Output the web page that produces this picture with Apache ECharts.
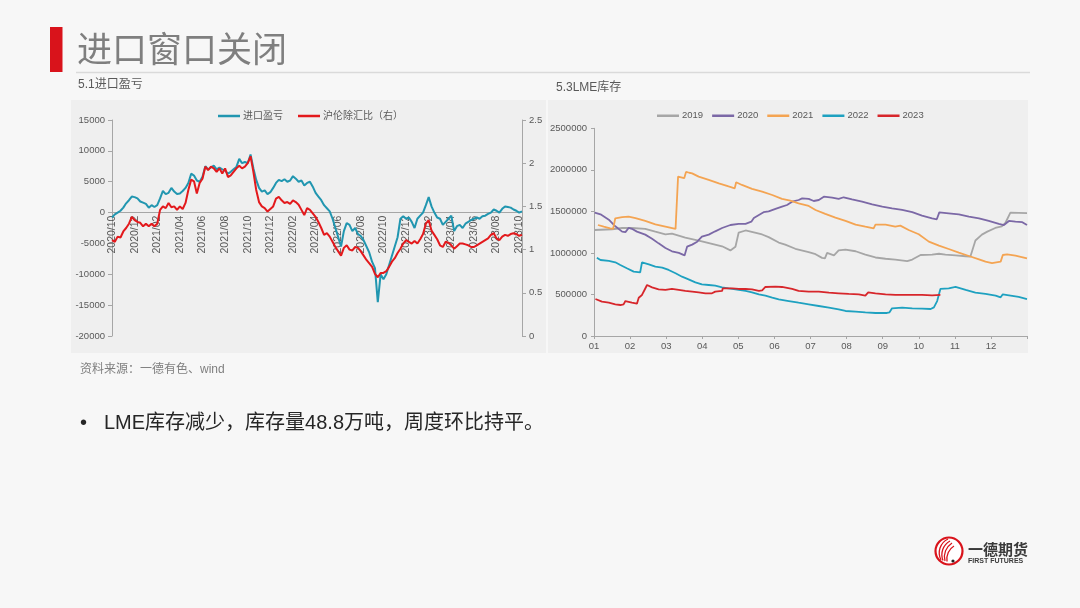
<!DOCTYPE html>
<html><head><meta charset="utf-8">
<script src="https://cdn.jsdelivr.net/npm/echarts@6/dist/echarts.min.js"></script>
<style>html,body{margin:0;padding:0;background:#f7f7f7}#c{width:1080px;height:608px}</style>
</head><body><div id="c"></div>
<script>
// ---------- Left chart: 进口盈亏 / 沪伦除汇比 (weekly samples, 2020/10 .. 2023/10) ----------
const profitSeriesName = '进口盈亏';
const ratioSeriesName = '沪伦除汇比（右）';
const xTickLabels = ['2020/10','2020/12','2021/02','2021/04','2021/06','2021/08','2021/10','2021/12',
  '2022/02','2022/04','2022/06','2022/08','2022/10','2022/12','2023/02','2023/04','2023/06','2023/08','2023/10'];
const importProfit = [
  -800,-300,0,300, 800,1500,2000,2600, 2500,2300,1800,1600, 1400,800,1200,900,
  1200,2300,3500,3000, 3200,4000,3400,3000, 3100,3500,4000,4800, 6300,6000,5200,5000,
  5800,7500,7000,7300, 7600,7000,7300,7000, 6800,6300,6600,7000, 7400,8700,8000,8200,
  8000,9400,7200,5300, 4000,3400,3600,3000, 3300,4000,4800,5300, 5100,5400,5000,5200,
  5900,5500,5000,5200, 4400,4800,5000,4200, 3200,2600,2000,1200, 700,200,-1000,-2500,
  -4000,-5500,-3000,-1700, -2000,-3000,-2500,-3500, -3800,-4500,-5500,-6500,
  -8000,-9000,-14500,-10000, -10800,-10000,-8500,-7000, -5500,-4000,-1000,-600,
  -1000,-800,-1500,-2500, -1000,-500,0,1200, 2500,1000,0,-800, -1000,-2000,-1500,-1000,
  -500,-3000,-2200,-2000, -2500,-1800,-1500,-1200, -1000,-800,-1000,-600, -500,-200,0,500,
  300,0,600,1000, 900,800,500,300, 0,200
];
const shLmeRatio = [
  1.11,1.09,1.15,1.14, 1.21,1.25,1.30,1.38, 1.34,1.32,1.31,1.27, 1.30,1.27,1.30,1.27,
  1.30,1.46,1.50,1.48, 1.54,1.49,1.50,1.46, 1.50,1.47,1.54,1.69, 1.81,1.79,1.65,1.77,
  1.82,1.96,1.92,1.96, 1.94,1.90,1.94,1.88, 1.94,1.84,1.86,1.90, 1.94,1.97,1.94,1.96,
  2.00,2.08,1.90,1.69, 1.55,1.50,1.48,1.44, 1.47,1.50,1.59,1.61, 1.57,1.54,1.55,1.53,
  1.57,1.55,1.52,1.46, 1.40,1.48,1.46,1.42, 1.38,1.32,1.25,1.17, 1.19,1.15,1.09,1.03,
  0.98,0.93,1.02,1.05, 1.00,0.99,1.03,1.02, 0.98,0.93,0.88,0.84, 0.80,0.72,0.68,0.73,
  0.73,0.75,0.80,0.86, 0.90,0.96,1.01,1.07, 1.11,1.09,1.07,1.10, 1.07,1.12,1.18,1.30,
  1.34,1.22,1.17,1.12, 1.05,1.03,1.09,1.08, 1.05,1.01,1.04,1.07, 1.07,1.06,1.05,1.03,
  1.03,1.05,1.07,1.09, 1.11,1.13,1.17,1.19, 1.13,1.11,1.15,1.17, 1.16,1.18,1.19,1.18,
  1.16,1.17
];
// weekly category names (4 per month starting 2020/10)
const weekCategories = [];
for (let i = 0; i < importProfit.length; i++) {
  const m = 9 + Math.floor(i / 4);
  const y = 2020 + Math.floor(m / 12);
  const mm = String(m % 12 + 1).padStart(2, '0');
  weekCategories.push(y + '/' + mm + '-w' + (i % 4 + 1));
}

// ---------- Right chart: LME 库存, [month position in year, tonnes] ----------
const lmeMonthLabels = ['01','02','03','04','05','06','07','08','09','10','11','12'];
const lmeYears = ['2019','2020','2021','2022','2023'];
const lme2019 = [[0.02,1276000],[0.5,1285000],[0.78,1300000],[1.05,1300000],[1.42,1290000],[1.7,1255000],[1.98,1224000],[2.16,1232000],[2.53,1185000],[2.99,1140000],[3.55,1080000],[3.78,1030000],[3.92,1075000],[4.01,1245000],[4.2,1270000],[4.66,1222000],[4.84,1190000],[5.12,1125000],[5.3,1100000],[5.58,1050000],[5.95,1010000],[6.14,985000],[6.32,940000],[6.4,935000],[6.46,1000000],[6.65,970000],[6.78,1030000],[6.97,1040000],[7.25,1020000],[7.52,980000],[7.8,945000],[8.08,930000],[8.35,920000],[8.68,900000],[8.82,920000],[9.05,975000],[9.37,980000],[9.56,990000],[9.74,980000],[10.02,970000],[10.3,960000],[10.43,955000],[10.57,1150000],[10.75,1220000],[10.9,1256000],[11.12,1300000],[11.3,1320000],[11.4,1360000],[11.54,1485000],[12,1480000]];
const lme2020 = [[0.02,1485000],[0.18,1465000],[0.41,1400000],[0.59,1320000],[0.78,1256000],[0.87,1250000],[0.96,1300000],[1.05,1290000],[1.19,1256000],[1.42,1220000],[1.61,1170000],[1.79,1115000],[1.98,1060000],[2.16,1020000],[2.35,1000000],[2.51,970000],[2.58,1075000],[2.72,1100000],[2.86,1135000],[2.99,1195000],[3.18,1220000],[3.36,1260000],[3.55,1300000],[3.78,1336000],[4.01,1350000],[4.2,1350000],[4.36,1376000],[4.43,1420000],[4.57,1457000],[4.7,1490000],[4.84,1500000],[5.03,1530000],[5.21,1557000],[5.35,1577000],[5.49,1617000],[5.67,1637000],[5.77,1657000],[5.95,1650000],[6.09,1625000],[6.23,1637000],[6.37,1677000],[6.6,1665000],[6.78,1650000],[6.92,1670000],[7.15,1645000],[7.43,1617000],[7.71,1585000],[7.99,1557000],[8.26,1537000],[8.54,1517000],[8.82,1490000],[9.09,1450000],[9.37,1417000],[9.5,1405000],[9.57,1488000],[9.83,1477000],[10.11,1465000],[10.39,1437000],[10.67,1417000],[10.94,1385000],[11.22,1350000],[11.36,1336000],[11.5,1385000],[11.68,1376000],[11.87,1370000],[12,1336000]];
const lme2021 = [[0.11,1336000],[0.27,1316000],[0.45,1296000],[0.53,1290000],[0.59,1417000],[0.78,1430000],[0.96,1437000],[1.15,1420000],[1.42,1385000],[1.7,1344000],[1.98,1316000],[2.26,1288000],[2.3,1284000],[2.33,1918000],[2.5,1900000],[2.55,1975000],[2.64,1965000],[2.72,1958000],[2.9,1918000],[3.18,1878000],[3.46,1838000],[3.73,1800000],[3.9,1778000],[3.94,1850000],[4.1,1818000],[4.38,1770000],[4.66,1738000],[4.94,1697000],[5.21,1650000],[5.44,1630000],[5.67,1597000],[5.95,1565000],[6.14,1517000],[6.41,1470000],[6.69,1425000],[6.97,1385000],[7.25,1340000],[7.52,1316000],[7.75,1296000],[7.8,1340000],[8.08,1340000],[8.35,1316000],[8.49,1328000],[8.72,1276000],[9.0,1225000],[9.28,1136000],[9.56,1088000],[9.83,1047000],[10.11,1003000],[10.39,963000],[10.67,923000],[10.85,895000],[11.03,878000],[11.27,895000],[11.33,975000],[11.45,983000],[11.68,967000],[12,935000]];
const lme2022 = [[0.08,943000],[0.18,915000],[0.41,903000],[0.59,887000],[0.73,855000],[0.91,815000],[1.1,775000],[1.28,767000],[1.33,887000],[1.52,863000],[1.7,835000],[1.89,823000],[2.07,795000],[2.26,755000],[2.44,714000],[2.62,682000],[2.81,646000],[2.99,622000],[3.18,614000],[3.36,606000],[3.55,586000],[3.73,574000],[3.92,562000],[4.2,542000],[4.38,526000],[4.57,502000],[4.75,486000],[4.94,461000],[5.12,441000],[5.4,421000],[5.67,401000],[5.95,381000],[6.23,361000],[6.51,341000],[6.78,321000],[6.97,301000],[7.25,293000],[7.52,285000],[7.8,277000],[8.12,277000],[8.19,285000],[8.26,333000],[8.54,341000],[8.82,333000],[9.09,329000],[9.33,325000],[9.42,345000],[9.51,420000],[9.6,566000],[9.83,574000],[9.88,598000],[10.02,590000],[10.3,554000],[10.57,522000],[10.85,506000],[11.13,486000],[11.27,466000],[11.33,502000],[11.5,490000],[11.77,470000],[12,445000]];
const lme2023 = [[0.04,445000],[0.22,413000],[0.41,401000],[0.59,381000],[0.73,373000],[0.82,381000],[0.87,421000],[1.05,401000],[1.19,389000],[1.24,461000],[1.33,494000],[1.4,554000],[1.47,614000],[1.61,586000],[1.79,562000],[1.98,554000],[2.16,566000],[2.35,554000],[2.53,542000],[2.72,534000],[2.9,526000],[3.09,514000],[3.27,514000],[3.36,534000],[3.55,542000],[3.57,574000],[3.83,574000],[4.01,566000],[4.2,566000],[4.38,562000],[4.57,542000],[4.66,550000],[4.75,590000],[5.03,594000],[5.21,590000],[5.49,566000],[5.67,542000],[5.95,534000],[6.23,534000],[6.51,522000],[6.78,514000],[7.06,506000],[7.34,502000],[7.52,486000],[7.6,526000],[7.8,514000],[8.08,502000],[8.35,494000],[8.63,494000],[8.91,494000],[9.09,494000],[9.37,490000],[9.6,494000]];
const lmeData = [lme2019, lme2020, lme2021, lme2022, lme2023];
const lmeColors = ['#a6a6a6', '#7b68a6', '#f4a452', '#1ea1c0', '#d7262b'];

const FONT = "'Liberation Sans','Noto Sans CJK SC',sans-serif";
const CJK = "'Noto Sans CJK SC','Liberation Sans',sans-serif";
const LBL = '#595959';
const AX = '#a6a6a6';

// left grid geometry; x axis sits on the y=0 line of the left value axis
const G0 = {left: 112, top: 120, width: 410, height: 216};
const Y0MIN = -20000, Y0MAX = 15000;
const zeroOffset = -G0.height * (0 - Y0MIN) / (Y0MAX - Y0MIN);

const chart = echarts.init(document.getElementById('c'), null, {renderer: 'canvas'});

const axisLbl = (extra) => Object.assign({color: LBL, fontSize: 9.5, fontFamily: FONT}, extra || {});

const logoArcs = [
  [941,560, 937,552, 940,543, 948,539],
  [943,560.5, 940,553, 943,545, 950,541],
  [945,561, 943,554, 946,547, 952,543],
  [947,561.5, 946,555, 949,549, 954,546]
].map(p => ({type: 'bezierCurve',
  shape: {x1: p[0], y1: p[1], cpx1: p[2], cpy1: p[3], cpx2: p[4], cpy2: p[5], x2: p[6], y2: p[7]},
  style: {stroke: '#d9131b', lineWidth: 1.3, fill: null}}));

const legendIcon = 'rect';

const option = {
  backgroundColor: '#f7f7f7',
  animation: false,
  textStyle: {fontFamily: FONT},
  graphic: [
    {type: 'rect', z: -10, silent: true, shape: {x: 71, y: 100, width: 475, height: 253}, style: {fill: '#efefef'}},
    {type: 'rect', z: -10, silent: true, shape: {x: 548, y: 100, width: 480, height: 253}, style: {fill: '#efefef'}},
    {type: 'rect', shape: {x: 50, y: 27, width: 12.5, height: 45}, style: {fill: '#d9131b'}},
    {type: 'text', x: 77, y: 49, style: {text: '进口窗口关闭', font: '35px ' + CJK, fill: '#7f7f7f', verticalAlign: 'middle'}},
    {type: 'line', shape: {x1: 76, y1: 72.5, x2: 1030, y2: 72.5}, style: {stroke: '#dadada', lineWidth: 1.5}},
    {type: 'text', x: 78, y: 85, style: {text: '5.1进口盈亏', font: '12px ' + FONT, fill: '#595959', verticalAlign: 'middle'}},
    {type: 'text', x: 556, y: 88, style: {text: '5.3LME库存', font: '12px ' + FONT, fill: '#595959', verticalAlign: 'middle'}},
    {type: 'text', x: 80, y: 370, style: {text: '资料来源：一德有色、wind', font: '12px ' + FONT, fill: '#7f7f7f', verticalAlign: 'middle'}},
    {type: 'text', x: 80, y: 423, style: {text: '•', font: '20px ' + FONT, fill: '#262626', verticalAlign: 'middle'}},
    {type: 'text', x: 104, y: 423, style: {text: 'LME库存减少，库存量48.8万吨，周度环比持平。', font: '20px ' + FONT, fill: '#262626', verticalAlign: 'middle'}},
    {type: 'circle', shape: {cx: 949, cy: 551, r: 13.5}, style: {fill: '#ffffff', stroke: '#d9131b', lineWidth: 2.2}}
  ].concat(logoArcs).concat([
    {type: 'circle', shape: {cx: 953, cy: 561, r: 1.6}, style: {fill: '#222'}},
    {type: 'text', x: 968, y: 549, style: {text: '一德期货', font: 'bold 15px ' + CJK, fill: '#3a3a3a', verticalAlign: 'middle'}},
    {type: 'text', x: 968, y: 561, style: {text: 'FIRST FUTURES', font: 'bold 7px ' + FONT, fill: '#3a3a3a', verticalAlign: 'middle'}}
  ]),
  legend: [
    {
      left: 218, top: 111, padding: 0, itemWidth: 22, itemHeight: 2.5, itemGap: 15, icon: legendIcon,
      textStyle: {color: LBL, fontSize: 10, fontFamily: FONT, padding: [0, 0, 0, -2]},
      data: [profitSeriesName, ratioSeriesName]
    },
    {
      left: 657, top: 111, padding: 0, itemWidth: 22, itemHeight: 2.5, itemGap: 9, icon: legendIcon,
      textStyle: {color: LBL, fontSize: 9.5, fontFamily: FONT, padding: [0, 0, 0, -2]},
      data: lmeYears
    }
  ],
  grid: [
    G0,
    {left: 594, top: 128.3, width: 433, height: 207.7}
  ],
  xAxis: [
    {
      gridIndex: 0, type: 'category', data: weekCategories, boundaryGap: false,
      position: 'bottom', offset: zeroOffset,
      axisLine: {onZero: false, lineStyle: {color: AX, width: 1}},
      axisTick: {show: false},
      axisLabel: axisLbl({fontSize: 10.5, rotate: 90, interval: 7, margin: 3,
        formatter: (v, i) => xTickLabels[Math.round(i / 8)] || ''}),
      splitLine: {show: false}
    },
    {
      gridIndex: 1, type: 'value', min: 0, max: 12, interval: 1,
      axisLine: {lineStyle: {color: AX}},
      axisTick: {show: true, length: 3, lineStyle: {color: AX}},
      axisLabel: axisLbl({margin: 6, formatter: (v) => lmeMonthLabels[v] || ''}),
      splitLine: {show: false}
    }
  ],
  yAxis: [
    {
      gridIndex: 0, type: 'value', min: Y0MIN, max: Y0MAX, interval: 5000, position: 'left',
      axisLine: {show: true, onZero: false, lineStyle: {color: AX}},
      axisTick: {show: true, length: 4, lineStyle: {color: AX}},
      axisLabel: axisLbl({margin: 7, formatter: (v) => String(v)}),
      splitLine: {show: false}
    },
    {
      gridIndex: 0, type: 'value', min: 0, max: 2.5, interval: 0.5, position: 'right',
      axisLine: {show: true, onZero: false, lineStyle: {color: AX}},
      axisTick: {show: true, length: 4, lineStyle: {color: AX}},
      axisLabel: axisLbl({margin: 7, formatter: (v) => String(v)}),
      splitLine: {show: false}
    },
    {
      gridIndex: 1, type: 'value', min: 0, max: 2500000, interval: 500000,
      axisLine: {show: true, lineStyle: {color: AX}},
      axisTick: {show: true, length: 3, lineStyle: {color: AX}},
      axisLabel: axisLbl({margin: 7, formatter: (v) => String(v)}),
      splitLine: {show: false}
    }
  ],
  series: [
    {
      name: profitSeriesName, type: 'line', xAxisIndex: 0, yAxisIndex: 0, data: importProfit,
      symbol: 'none', lineStyle: {color: '#2196b0', width: 2}, itemStyle: {color: '#2196b0'}
    },
    {
      name: ratioSeriesName, type: 'line', xAxisIndex: 0, yAxisIndex: 1, data: shLmeRatio,
      symbol: 'none', lineStyle: {color: '#e3191c', width: 2}, itemStyle: {color: '#e3191c'}
    }
  ].concat(lmeYears.map((y, i) => ({
    name: y, type: 'line', xAxisIndex: 1, yAxisIndex: 2, data: lmeData[i],
    symbol: 'none', lineStyle: {color: lmeColors[i], width: 1.8}, itemStyle: {color: lmeColors[i]}
  })))
};
chart.setOption(option);
</script>
</body></html>
